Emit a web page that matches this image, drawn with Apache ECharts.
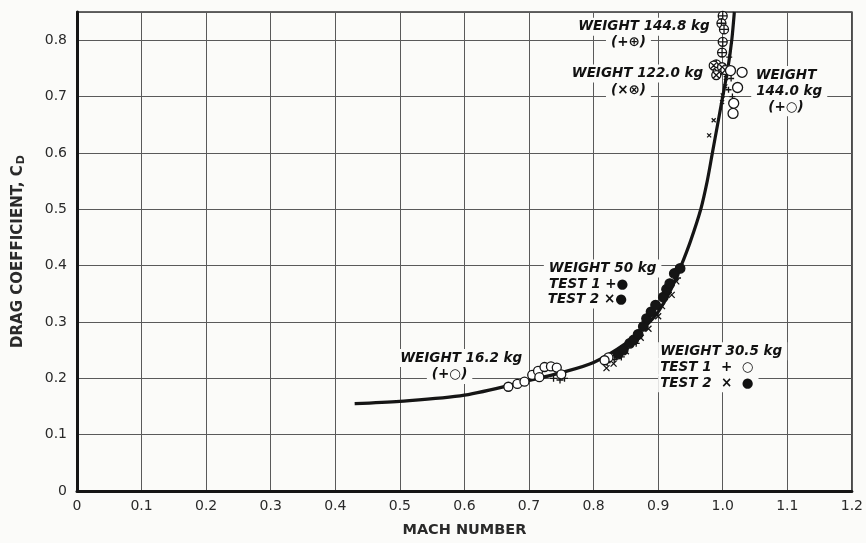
<!DOCTYPE html>
<html>
<head>
<meta charset="utf-8">
<script src="https://cdn.jsdelivr.net/npm/echarts@6/dist/echarts.min.js"></script>
<style>
html,body{margin:0;padding:0;background:#fbfbf9;}
#chart{width:866px;height:543px;}
</style>
</head>
<body>
<div id="chart"></div>
<script>
// ---- data ----
const xTickLabels = ['0','0.1','0.2','0.3','0.4','0.5','0.6','0.7','0.8','0.9','1.0','1.1','1.2'];
const yTickLabels = ['0','0.1','0.2','0.3','0.4','0.5','0.6','0.7','0.8'];

// faired drag curve [Mach, Cd]
const curve = [[0.43,0.155],[0.5,0.159],[0.6,0.170],[0.7,0.196],[0.75,0.210],[0.8,0.228],[0.85,0.262],
  [0.88,0.292],[0.9,0.318],[0.92,0.358],[0.935,0.398],[0.95,0.443],[0.966,0.5],[0.976,0.55],[0.984,0.6],
  [0.992,0.65],[1.0,0.70],[1.008,0.75],[1.014,0.80],[1.018,0.85]];

// 16.2 kg (+ o)
const w162Open = [[0.668,0.185],[0.682,0.19],[0.693,0.194],[0.705,0.206],[0.714,0.213],[0.724,0.22],
  [0.734,0.221],[0.743,0.219],[0.75,0.207],[0.716,0.202]];
const w162Plus = [[0.738,0.2],[0.748,0.197],[0.755,0.2]];

// 30.5 kg test 1 (+ o) / test 2 (x filled)
const w305Open = [[0.823,0.237],[0.817,0.232]];
const w305Plus = [[0.821,0.228],[0.832,0.233]];
// filled circles (30.5 kg test 2, 50 kg tests)
const filledPts = [[0.838,0.243],[0.846,0.25],[0.856,0.262],[0.862,0.268],[0.869,0.278],[0.877,0.292],
  [0.882,0.306],[0.889,0.318],[0.896,0.33],[0.908,0.344],[0.913,0.358],[0.918,0.368],[0.925,0.386],[0.934,0.395]];
const crossPts = [[0.82,0.218],[0.831,0.226],[0.85,0.248],[0.873,0.272],[0.885,0.288],[0.9,0.31],
  [0.906,0.328],[0.921,0.348],[0.928,0.372]];
const plusPts = [[0.843,0.238],[0.866,0.262],[0.894,0.314],[0.916,0.352],[0.93,0.378]];

// 144.8 kg (+ circled-plus)
const w1448Circ = [[1.0,0.843],[0.998,0.83],[1.002,0.819],[1.0,0.797],[0.999,0.778],[0.99,0.757],[0.996,0.748]];
// 122.0 kg (x circled-x)
const w122Circ = [[0.986,0.755],[0.992,0.744],[0.999,0.752],[1.004,0.747],[0.99,0.738]];
const w122Cross = [[1.005,0.733],[1.004,0.718],[1.0,0.702],[0.999,0.69],[0.986,0.658],[0.979,0.631]];
// 144.0 kg (+ o)
const w1440Open = [[1.03,0.743],[1.023,0.716],[1.017,0.688],[1.016,0.67],[1.012,0.746]];
const w1440Plus = [[1.01,0.77],[1.013,0.732],[1.009,0.712],[1.015,0.7]];

// annotation texts: [Mach, Cd, text]
const notesCenter = [
  [0.878,0.824,'WEIGHT 144.8 kg'],[0.854,0.795,'(+⊕)'],
  [0.868,0.741,'WEIGHT 122.0 kg'],[0.854,0.711,'(×⊗)'],
  [1.098,0.738,'WEIGHT'],[1.103,0.709,'144.0 kg'],[1.098,0.681,'(+○)'],
  [0.814,0.395,'WEIGHT 50 kg'],
  [0.595,0.236,'WEIGHT 16.2 kg'],[0.577,0.206,'(+○)']
];
const notesLeft = [
  [0.728,0.367,'TEST 1 +●'],[0.726,0.340,'TEST 2 ×●'],
  [0.9,0.248,'WEIGHT 30.5 kg'],[0.9,0.220,'TEST 1  +  ○'],[0.9,0.191,'TEST 2  ×  ●']
];

// ---- chart ----
const ink = '#151515';
const bg = '#fbfbf9';
const PLUS = 'path://M0,5L10,5M5,0L5,10';
const CROSS = 'path://M0,0L10,10M10,0L0,10';
const CPLUS = 'path://M0,5A5,5,0,1,1,10,5A5,5,0,1,1,0,5ZM0,5L10,5M5,0L5,10';
const CCROSS = 'path://M0,5A5,5,0,1,1,10,5A5,5,0,1,1,0,5ZM1.5,1.5L8.5,8.5M8.5,1.5L1.5,8.5';

function stroke(name, data, symbol, size, fill){
  return {type:'scatter', name, data, symbol, symbolSize:size, z:4,
    itemStyle:{color: fill||'rgba(0,0,0,0)', borderColor:ink, borderWidth:1.3, opacity:1}};
}
function disc(data, size, fill){
  return {type:'scatter', data, symbol:'circle', symbolSize:size, z:5,
    itemStyle:{color:fill, borderColor:ink, borderWidth:1.3, opacity:1}};
}
const labelFont = {fontFamily:'DejaVu Sans', fontStyle:'italic', fontWeight:'bold', fontSize:13.5, color:'#111'};

const chart = echarts.init(document.getElementById('chart'), null, {renderer:'canvas'});
chart.setOption({
  backgroundColor: bg,
  animation:false,
  grid:{left:77, right:9, top:12, bottom:52, show:true, borderColor:'#333', borderWidth:1.5},
  xAxis:{type:'value', min:0, max:1.2, interval:0.1,
    name:'MACH NUMBER', nameLocation:'middle', nameGap:32,
    nameTextStyle:{fontFamily:'DejaVu Sans', fontWeight:'bold', fontSize:14.5, color:'#2a2a2a'},
    axisLine:{show:true, lineStyle:{color:ink, width:3}},
    axisTick:{show:false},
    splitLine:{show:true, lineStyle:{color:'#5a5a5a', width:1}},
    axisLabel:{margin:8, fontFamily:'DejaVu Sans', fontSize:14, color:'#2a2a2a',
      formatter:v=>{const i=Math.round(v*10);return Math.abs(v*10-i)<0.01?(xTickLabels[i]||''):'';}}
  },
  yAxis:{type:'value', min:0, max:0.85, interval:0.1,
    name:'{a|DRAG COEFFICIENT, C}{s|D}', nameLocation:'middle', nameGap:50, nameRotate:90,
    nameTextStyle:{rich:{
      a:{fontFamily:'DejaVu Sans', fontWeight:'bold', fontSize:15, color:'#2a2a2a'},
      s:{fontFamily:'DejaVu Sans', fontWeight:'bold', fontSize:11, color:'#2a2a2a', padding:[7,0,0,1]}}},
    axisLine:{show:true, lineStyle:{color:ink, width:3}},
    axisTick:{show:false},
    splitLine:{show:true, lineStyle:{color:'#5a5a5a', width:1}},
    axisLabel:{margin:10, fontFamily:'DejaVu Sans', fontSize:14, color:'#2a2a2a',
      formatter:v=>{const i=Math.round(v*10);return Math.abs(v*10-i)<0.01?(yTickLabels[i]||''):'';}}
  },
  series:[
    {type:'scatter', data:notesCenter.map(d=>({value:[d[0],d[1]], name:d[2]})), symbolSize:0, z:6,
      itemStyle:{opacity:1},
      label:{show:true, position:'inside', formatter:p=>p.name, ...labelFont,
        backgroundColor:bg, padding:[2,5,2,5]}},
    {type:'scatter', data:notesLeft.map(d=>({value:[d[0],d[1]], name:d[2]})), symbolSize:0, z:6,
      itemStyle:{opacity:1},
      label:{show:true, position:'inside', align:'left', formatter:p=>p.name, ...labelFont,
        backgroundColor:bg, padding:[2,5,2,2]}},
    {type:'line', data:curve, smooth:0.3, showSymbol:false, symbol:'none', z:3,
      lineStyle:{color:ink, width:3.2}},
    disc(w162Open, 9, '#fff'),
    stroke('w162p', w162Plus, PLUS, 7),
    disc(w305Open, 9, '#fff'),
    stroke('w305p', w305Plus, PLUS, 7),
    disc(filledPts, 9.5, ink),
    stroke('cross', crossPts, CROSS, 6),
    stroke('plus', plusPts, PLUS, 7),
    stroke('w1448', w1448Circ, CPLUS, 9, '#fff'),
    stroke('w122', w122Circ, CCROSS, 9, '#fff'),
    stroke('w122x', w122Cross, CROSS, 4),
    disc(w1440Open, 10, '#fff'),
    stroke('w1440p', w1440Plus, PLUS, 6)
  ]
});
</script>
</body>
</html>
